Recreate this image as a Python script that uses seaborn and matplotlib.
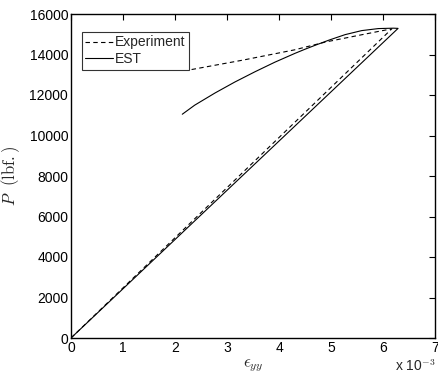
import matplotlib
matplotlib.use("Agg")
import matplotlib.pyplot as plt
import seaborn as sns
from matplotlib.ticker import FuncFormatter

# Data (strain, load in lbf)
exp_strain = [0.0, 6.17e-3, 5.6e-3, 4.9e-3, 4.3e-3, 3.3e-3, 2.26e-3]
exp_load = [0, 15270, 14980, 14620, 14230, 13720, 13230]

est_strain = [0.0, 6.29e-3, 6.2e-3, 5.91e-3, 5.59e-3, 5.27e-3, 4.95e-3, 4.69e-3,
              4.5e-3, 4.31e-3, 3.92e-3, 3.54e-3, 3.15e-3, 2.77e-3, 2.38e-3, 2.14e-3]
est_load = [0, 15290, 15300, 15280, 15180, 14980, 14700, 14450,
            14260, 14060, 13620, 13150, 12640, 12100, 11500, 11050]

xticks = [0, 1, 2, 3, 4, 5, 6, 7]
yticks = [0, 2000, 4000, 6000, 8000, 10000, 12000, 14000, 16000]

sns.set_style("white")
plt.rcParams['font.family'] = ['Liberation Sans', 'DejaVu Sans']
plt.rcParams['mathtext.fontset'] = 'cm'

fig = plt.figure(figsize=(4.39, 3.79), dpi=100)
ax = fig.add_axes([71/439, 41/379, 364/439, 324/379])

sns.lineplot(x=exp_strain, y=exp_load, sort=False, estimator=None, ax=ax,
             color='k', linewidth=0.8, label='Experiment')
sns.lineplot(x=est_strain, y=est_load, sort=False, estimator=None, ax=ax,
             color='k', linewidth=0.8, label='EST')
ax.lines[0].set_linestyle((0, (4, 3)))

ax.set_xlim(0, 7e-3)
ax.set_ylim(0, 16000)
ax.set_xticks([t * 1e-3 for t in xticks])
ax.set_yticks(yticks)
ax.xaxis.set_major_formatter(FuncFormatter(lambda v, p: f"{v*1e3:g}"))
ax.yaxis.set_major_formatter(FuncFormatter(lambda v, p: f"{v:g}"))
ax.tick_params(direction='in', length=4, width=0.8, top=True, right=True,
               labelsize=10, pad=2, colors='k')
for s in ax.spines.values():
    s.set_linewidth(1.0)
    s.set_color('k')

ax.set_xlabel(r'$\epsilon_{yy}$', fontsize=12, labelpad=2)
ax.set_ylabel(r'$P\ \ \mathrm{(lbf.)}$', fontsize=12)
ax.yaxis.set_label_coords((22 - 71) / 364, 0.5)

fig.text(436/439, 1 - 371/379, r'x 10$^{-3}$', ha='right', va='baseline', fontsize=10)

leg = ax.legend(loc='upper left', bbox_to_anchor=(11/364, 1 - 18/324), frameon=True,
                fontsize=10, handlelength=2.0, borderpad=0.25, labelspacing=0.2,
                handletextpad=0.15, borderaxespad=0)
leg.get_frame().set_edgecolor('k')
leg.get_frame().set_linewidth(0.8)
leg.get_frame().set_boxstyle('square', pad=0)

fig.savefig('out.png', dpi=100)
